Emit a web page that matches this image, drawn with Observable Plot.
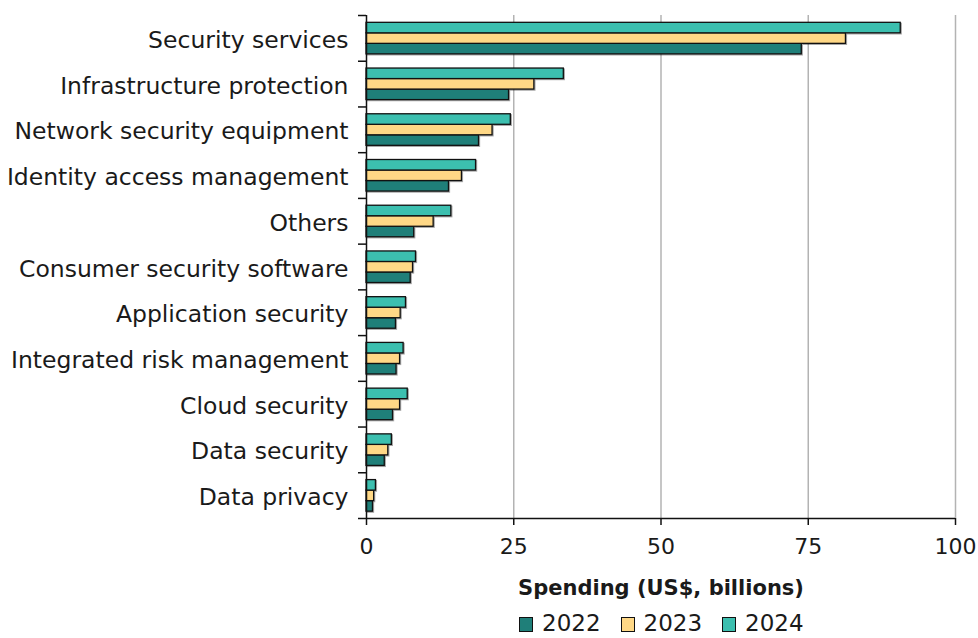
<!DOCTYPE html>
<html>
<head>
<meta charset="utf-8">
<script src="https://cdn.jsdelivr.net/npm/d3@7"></script>
<script src="https://cdn.jsdelivr.net/npm/@observablehq/plot@0.6"></script>
<style>
  html, body { margin: 0; padding: 0; background: #fff; }
  body { font-family: "DejaVu Sans", sans-serif; color: #1a1a1a; width: 978px; }
  #legend { display: flex; align-items: center; margin-left: 519px; height: 38px; font-size: 23px; line-height: 1; }
  #legend .item { display: flex; align-items: center; margin-right: 20px; }
  #legend .sw { width: 14px; height: 15px; border: 1.3px solid #111; margin-right: 9px; box-sizing: border-box; position: relative; top: 1px; }
  .bars { filter: drop-shadow(1.2px 1.2px 0.6px rgba(0,0,0,0.35)); }
</style>
</head>
<body>
<div id="chart"></div>
<div id="legend"></div>
<script>
const categories = [
  "Security services",
  "Infrastructure protection",
  "Network security equipment",
  "Identity access management",
  "Others",
  "Consumer security software",
  "Application security",
  "Integrated risk management",
  "Cloud security",
  "Data security",
  "Data privacy"
];
const years = ["2022", "2023", "2024"];
const v2022 = [73.9, 24.2, 19.1, 14.0, 8.1, 7.5, 5.0, 5.1, 4.5, 3.1, 1.1];
const v2023 = [81.4, 28.5, 21.4, 16.2, 11.4, 7.9, 5.8, 5.7, 5.7, 3.7, 1.3];
const v2024 = [90.7, 33.5, 24.5, 18.6, 14.4, 8.4, 6.7, 6.3, 7.0, 4.3, 1.6];
const xTicks = [0, 25, 50, 75, 100];
const colors = ["#1f7f79", "#ffd886", "#3cbfaf"];
const xTitle = "Spending (US$, billions)";

// within each category band: 2024 on top, then 2023, then 2022
const slot = {"2024": 0, "2023": 1, "2022": 2};
const pad = 0.16, bh = 0.23;
const seriesByYear = {"2022": v2022, "2023": v2023, "2024": v2024};
const rows = [];
categories.forEach((c, i) => {
  years.forEach(y => {
    rows.push({category: c, idx: i, year: y, value: seriesByYear[y][i]});
  });
});

const width = 978, height = 604;
const chart = Plot.plot({
  width, height,
  marginLeft: 366, marginRight: 23, marginTop: 15, marginBottom: 86,
  style: {fontFamily: "'DejaVu Sans', sans-serif", color: "#1a1a1a", overflow: "visible"},
  x: {domain: [0, 100]},
  y: {domain: [categories.length, 0]},
  color: {domain: years, range: colors},
  marks: [
    Plot.ruleX([25, 50, 75, 100], {stroke: "#b3b3b3", strokeWidth: 1.5}),
    Plot.rect(rows, {
      x1: 0, x2: "value",
      y1: d => d.idx + pad + slot[d.year] * bh,
      y2: d => d.idx + pad + (slot[d.year] + 1) * bh,
      fill: "year", stroke: "#111", strokeWidth: 1.3,
      className: "bars"
    }),
    Plot.ruleX([0], {stroke: "#111", strokeWidth: 1.5}),
    Plot.ruleY([categories.length], {stroke: "#111", strokeWidth: 1.5}),
    Plot.axisY({ticks: d3.range(0, categories.length + 1), tickSize: 8, tickFormat: () => "", stroke: "#111", strokeWidth: 1.5}),
    Plot.text(categories, {
      x: 0, y: (d, i) => i + 0.5, text: d => d,
      textAnchor: "end", dx: -18, dy: 2, fontSize: 23.5, fill: "#1a1a1a"
    }),
    Plot.axisX({ticks: xTicks, tickSize: 7, tickPadding: 13, fontSize: 22, label: null, stroke: "#111", strokeWidth: 1.5}),
    Plot.text([xTitle], {frameAnchor: "bottom", dy: 76, text: d => d, fontSize: 21, fontWeight: "bold", fill: "#1a1a1a"})
  ]
});
document.getElementById("chart").appendChild(chart);

const legend = document.getElementById("legend");
years.forEach((y, i) => {
  const item = document.createElement("div");
  item.className = "item";
  const sw = document.createElement("div");
  sw.className = "sw";
  sw.style.background = colors[i];
  const lab = document.createElement("span");
  lab.textContent = y;
  item.appendChild(sw);
  item.appendChild(lab);
  legend.appendChild(item);
});
</script>
</body>
</html>
